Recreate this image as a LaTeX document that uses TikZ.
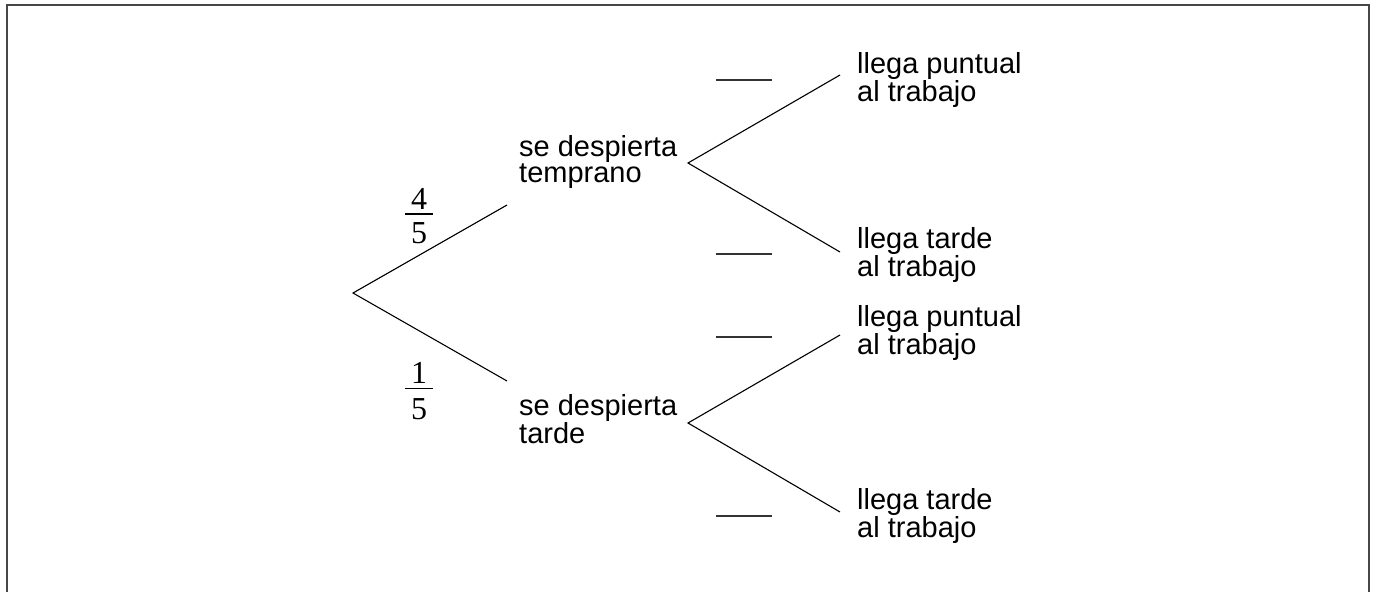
\documentclass[tikz,border=0pt]{standalone}
\usepackage{fontspec}
\setmainfont{Liberation Sans}
\newfontfamily\serifdigits{Liberation Serif}
\newcommand\lbl[1]{\begin{tabular}[t]{@{}l@{}}#1\end{tabular}}
\begin{document}
\begin{tikzpicture}[x=1pt,y=-1pt,
  txt/.style={anchor=base west,inner sep=0pt,font=\fontsize{29}{26.5}\selectfont},
  dig/.style={anchor=base,inner sep=0pt,font=\fontsize{32}{30}\selectfont\serifdigits},
  branch/.style={line width=1.1pt,black},
  blank/.style={line width=1.3pt,black!80},
  fbar/.style={line width=1.2pt,black}]
\useasboundingbox (0,0) rectangle (1375,592);
% frame (open at bottom)
\draw[line width=2pt,black!72] (6.5,592) -- (6.5,4.5) -- (1368.5,4.5) -- (1368.5,592);

% coordinates of branch points
\coordinate (root) at (353,293);
\coordinate (a1) at (507,205);
\coordinate (a2) at (507,381);
\coordinate (b1) at (688,163);
\coordinate (b2) at (688,423);
\coordinate (c1) at (840,75);
\coordinate (c2) at (840,252);
\coordinate (c3) at (840,335);
\coordinate (c4) at (840,512);

% labels
\node[txt] (t1) at (519,156) {\lbl{se despierta\\temprano}};
\node[txt] (t2) at (519,415) {\lbl{se despierta\\tarde}};
\node[txt] (r1) at (857,73) {\lbl{llega puntual\\al trabajo}};
\node[txt] (r2) at (857,248) {\lbl{llega tarde\\al trabajo}};
\node[txt] (r3) at (857,326) {\lbl{llega puntual\\al trabajo}};
\node[txt] (r4) at (857,509) {\lbl{llega tarde\\al trabajo}};

% branches
\draw[branch] (a1) -- (root) -- (a2);
\draw[branch] (c1) -- (b1) -- (c2);
\draw[branch] (c3) -- (b2) -- (c4);

% fractions
\node[dig] (n1) at (419,209) {4};
\node[dig] (d1) at (419,243) {5};
\coordinate (f1l) at (405,214);
\coordinate (f1r) at (433,214);
\draw[fbar] (f1l) -- (f1r);
\node[dig] (n2) at (419,383.5) {1};
\node[dig] (d2) at (419,419) {5};
\coordinate (f2l) at (405,388.5);
\coordinate (f2r) at (433,388.5);
\draw[fbar] (f2l) -- (f2r);

% blanks
\coordinate (k1l) at (716,80);  \coordinate (k1r) at (772,80);
\coordinate (k2l) at (716,254); \coordinate (k2r) at (772,254);
\coordinate (k3l) at (716,337); \coordinate (k3r) at (772,337);
\coordinate (k4l) at (716,516); \coordinate (k4r) at (772,516);
\draw[blank] (k1l) -- (k1r);
\draw[blank] (k2l) -- (k2r);
\draw[blank] (k3l) -- (k3r);
\draw[blank] (k4l) -- (k4r);
\end{tikzpicture}
\end{document}
